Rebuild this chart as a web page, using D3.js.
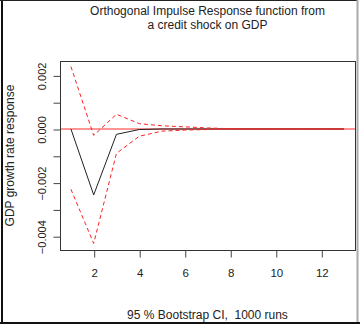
<!DOCTYPE html>
<html>
<head>
<meta charset="utf-8">
<script src="https://cdn.jsdelivr.net/npm/d3@7"></script>
<style>
  body { margin: 0; background: #fff; }
  svg { display: block; font-family: "Liberation Sans", Arial, sans-serif; }
</style>
</head>
<body>
<svg id="chart" width="360" height="325"></svg>
<script>
// horizon steps and response values
const steps = [1, 2, 3, 4, 5, 6, 7, 8, 9, 10, 11, 12, 13];
const irf   = [0, -0.00246, -0.0002, -0.00002, 0, 0, 0, 0, 0, 0, 0, 0, 0];
const upper = [0.00233, -0.00024, 0.00055, 0.0002, 0.00012, 0.00008, 0.00004, 0.00001, 0, 0, 0, 0, 0];
const lower = [-0.00225, -0.00427, -0.00091, -0.00027, -0.00008, -0.00004, -0.00002, 0, 0, 0, 0, 0, 0];

const xTicks = [2, 4, 6, 8, 10, 12];
const yTicks = [0.002, 0.001, 0, -0.001, -0.002, -0.003, -0.004];
const yLabelled = [0.002, 0, -0.002, -0.004];

const titleLines = ["Orthogonal Impulse Response function from", "a credit shock on GDP"];
const xLabel = "95 % Bootstrap CI,  1000 runs";
const yLabel = "GDP growth rate response";

const width = 360, height = 325;
const plot = { left: 60, right: 355, top: 61, bottom: 250 };

const svg = d3.select("#chart");

// outer frame of the screenshot
svg.append("line").attr("x1", 2).attr("x2", 2).attr("y1", 0).attr("y2", 324)
    .attr("stroke", "#111").attr("stroke-width", 2);
svg.append("line").attr("x1", 0).attr("x2", 358).attr("y1", 0.5).attr("y2", 0.5)
    .attr("stroke", "#222").attr("stroke-width", 1);
svg.append("line").attr("x1", 0).attr("x2", 360).attr("y1", 323).attr("y2", 323)
    .attr("stroke", "#111").attr("stroke-width", 2);
svg.append("line").attr("x1", 357.5).attr("x2", 357.5).attr("y1", 0).attr("y2", 322)
    .attr("stroke", "#aaa").attr("stroke-width", 2);

const x = d3.scaleLinear().domain([0.52, 13.48]).range([plot.left, plot.right]);
const y = d3.scaleLinear().domain([-0.004515, 0.002537]).range([plot.bottom, plot.top]);

// zero line
svg.append("line")
    .attr("x1", plot.left).attr("x2", plot.right)
    .attr("y1", y(0)).attr("y2", y(0))
    .attr("stroke", "rgba(255,0,0,0.42)").attr("stroke-width", 2);

const line = d3.line()
    .x((d, i) => x(steps[i]))
    .y(d => y(d));

svg.append("path").datum(irf)
    .attr("d", line).attr("fill", "none")
    .attr("stroke", "#222").attr("stroke-width", 1);

[upper, lower].forEach(s => {
    svg.append("path").datum(s)
        .attr("d", line).attr("fill", "none")
        .attr("stroke", "#ff2020").attr("stroke-width", 1)
        .attr("stroke-dasharray", "4,3");
});

// plot box
svg.append("rect")
    .attr("x", plot.left + 0.5).attr("y", plot.top + 0.5)
    .attr("width", plot.right - plot.left).attr("height", plot.bottom - plot.top)
    .attr("fill", "none").attr("stroke", "#333");

// axes
const xAxis = svg.append("g")
    .attr("transform", `translate(0.5,${plot.bottom + 0.5})`)
    .call(d3.axisBottom(x).tickValues(xTicks).tickSize(7).tickPadding(11));
xAxis.select(".domain").remove();
xAxis.selectAll("line").attr("stroke", "#444");
xAxis.selectAll("text").attr("font-size", 11.5).attr("fill", "#222")
    .attr("font-family", "Liberation Sans, Arial, sans-serif");

const yAxis = svg.append("g")
    .attr("transform", `translate(${plot.left + 0.5},0.5)`)
    .call(d3.axisLeft(y).tickValues(yTicks).tickSize(7)
        .tickFormat(d => yLabelled.some(v => Math.abs(v - d) < 1e-9) ? d3.format(".3f")(d) : ""));
yAxis.select(".domain").remove();
yAxis.selectAll("line").attr("stroke", "#444");
yAxis.selectAll("text")
    .attr("font-size", 11).attr("fill", "#222")
    .attr("font-family", "Liberation Sans, Arial, sans-serif")
    .attr("text-anchor", "middle")
    .attr("x", 0).attr("dy", 0)
    .attr("transform", "translate(-15,0) rotate(-90)");

// titles
const cx = (plot.left + plot.right) / 2;
svg.append("text").attr("x", cx).attr("text-anchor", "middle")
    .attr("font-size", 12).attr("fill", "#222")
    .selectAll("tspan").data(titleLines).join("tspan")
    .attr("x", cx).attr("y", (d, i) => 15 + i * 13.5)
    .text(d => d);

svg.append("text").attr("x", cx).attr("y", 319)
    .attr("text-anchor", "middle").attr("font-size", 12).attr("fill", "#222")
    .style("white-space", "pre")
    .text(xLabel);

svg.append("text")
    .attr("transform", `translate(13.5,${(plot.top + plot.bottom) / 2}) rotate(-90)`)
    .attr("text-anchor", "middle").attr("font-size", 12).attr("fill", "#222")
    .text(yLabel);
</script>
</body>
</html>
